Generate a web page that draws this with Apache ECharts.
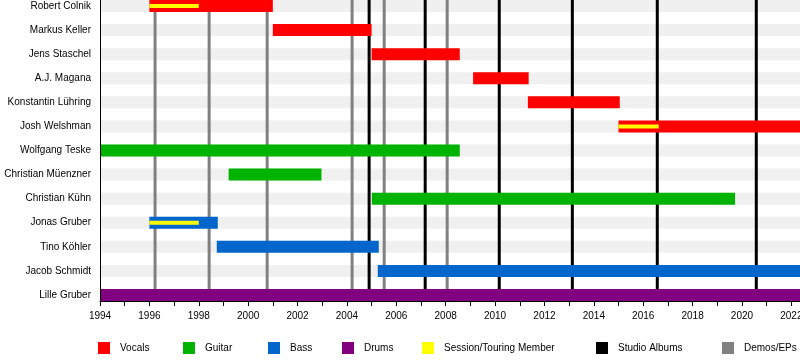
<!DOCTYPE html>
<html>
<head>
<meta charset="utf-8">
<script src="https://cdn.jsdelivr.net/npm/echarts@6/dist/echarts.min.js"></script>
<style>html,body{margin:0;padding:0;background:#fff}#c{width:800px;height:360px}</style>
</head>
<body>
<div id="c"></div>
<script>
const members = ['Robert Colnik','Markus Keller','Jens Staschel','A.J. Magana','Konstantin Lühring','Josh Welshman','Wolfgang Teske','Christian Müenzner','Christian Kühn','Jonas Gruber','Tino Köhler','Jacob Schmidt','Lille Gruber'];
const START = 1994;
const END = 2022.35;
const vocals = [['Robert Colnik',1996.0,2001.0],['Markus Keller',2001.0,2005.0],['Jens Staschel',2005.0,2008.57],['A.J. Magana',2009.11,2011.36],['Konstantin Lühring',2011.33,2015.05],['Josh Welshman',2015.0,END]];
const guitar = [['Wolfgang Teske',1994.0,2008.57],['Christian Müenzner',1999.21,2002.97],['Christian Kühn',2005.01,2019.72]];
const bass = [['Jonas Gruber',1996.0,1998.77],['Tino Köhler',1998.73,2005.29],['Jacob Schmidt',2005.25,END]];
const drums = [['Lille Gruber',1994.0,END]];
const session = [['Robert Colnik',1996.0,1998.0],['Josh Welshman',2015.0,2016.63],['Jonas Gruber',1996.0,1998.0]];
const studioAlbums = [2004.90,2007.17,2010.17,2013.13,2016.57,2020.58];
const demosEPs = [1996.23,1998.42,2000.77,2004.21,2005.51,2008.06];
const yearLabels = [1994,1996,1998,2000,2002,2004,2006,2008,2010,2012,2014,2016,2018,2020,2022];

const FONT = "'Liberation Sans', Arial, sans-serif";
const rowIdx = n => members.indexOf(n);
const toData = arr => arr.map(d => [rowIdx(d[0]), d[1], d[2]]);

function barRender(h) {
  return function (params, api) {
    const row = api.value(0), s = api.value(1), e = api.value(2);
    const p0 = api.coord([s, row]);
    const p1 = api.coord([e, row]);
    const cs = params.coordSys;
    const shape = echarts.graphic.clipRectByRect(
      {x: p0[0], y: p0[1] - h / 2, width: p1[0] - p0[0], height: h},
      {x: cs.x, y: cs.y - 20, width: cs.width, height: cs.height + 40});
    return shape && {type: 'rect', shape: shape, style: {fill: api.visual('color')}};
  };
}
function lineRender(params, api) {
  const x = api.coord([api.value(0), 0])[0];
  const cs = params.coordSys;
  return {type: 'line', shape: {x1: x, y1: cs.y, x2: x, y2: cs.y + cs.height},
          style: {stroke: api.visual('color'), lineWidth: 3}};
}
function barSeries(name, color, data, h, z) {
  return {name: name, type: 'custom', renderItem: barRender(h), itemStyle: {color: color},
          encode: {x: [1, 2], y: 0}, data: toData(data), z: z, silent: true, clip: false};
}
function lineSeries(name, color, data, z) {
  return {name: name, type: 'custom', renderItem: lineRender, itemStyle: {color: color},
          encode: {x: 0}, data: data.map(v => [v]), z: z, silent: true};
}
const stripes = members.map(m => [m, START, END]);

function legendAt(name, left) {
  return {data: [name], left: left, top: 342, itemWidth: 12, itemHeight: 12, padding: 0,
          icon: 'rect', selectedMode: false,
          textStyle: {fontSize: 10, fontFamily: FONT, color: '#000', padding: [0, 0, 0, 5]}};
}

const chart = echarts.init(document.getElementById('c'), null, {renderer: 'canvas'});
chart.setOption({
  backgroundColor: '#fff',
  animation: false,
  textStyle: {fontFamily: FONT},
  grid: {left: 100, top: 0, width: 700, height: 301, containLabel: false, outerBoundsMode: 'none'},
  xAxis: {
    type: 'value', min: START, max: END, interval: 1, z: 20, position: 'bottom',
    axisLine: {show: true, onZero: false, lineStyle: {color: '#000', width: 1}},
    axisTick: {show: true, length: 5, lineStyle: {color: '#000', width: 1}},
    axisLabel: {customValues: yearLabels, fontSize: 10, color: '#000', margin: 10, fontFamily: FONT,
                formatter: v => String(v), hideOverlap: false},
    splitLine: {show: false}
  },
  yAxis: {
    type: 'value', min: -0.25, max: 12.25, inverse: true, z: 20, position: 'left',
    axisLine: {show: true, onZero: false, lineStyle: {color: '#000', width: 1}},
    axisTick: {show: false},
    splitLine: {show: false},
    axisLabel: {customValues: members.map((m, i) => i), fontSize: 10, color: '#000', margin: 9,
                padding: [2, 0, 0, 0],
                fontFamily: FONT, formatter: v => members[Math.round(v)] || ''}
  },
  legend: [
    legendAt('Vocals', 98), legendAt('Guitar', 183), legendAt('Bass', 268), legendAt('Drums', 342),
    legendAt('Session/Touring Member', 422), legendAt('Studio Albums', 596), legendAt('Demos/EPs', 722)
  ],
  series: [
    barSeries('_bg', '#f0f0f0', stripes, 12, 1),
    lineSeries('Demos/EPs', '#808080', demosEPs, 2),
    lineSeries('Studio Albums', '#000000', studioAlbums, 3),
    barSeries('Vocals', '#ff0000', vocals, 12, 4),
    barSeries('Guitar', '#00b300', guitar, 12, 4),
    barSeries('Bass', '#0066cc', bass, 12, 4),
    barSeries('Drums', '#800080', drums, 12, 4),
    barSeries('Session/Touring Member', '#ffff00', session, 4, 5)
  ]
});
</script>
</body>
</html>
